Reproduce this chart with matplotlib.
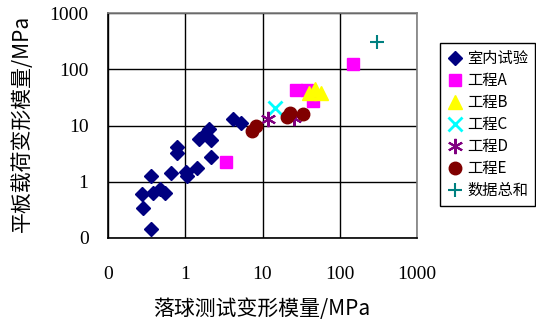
import matplotlib
matplotlib.use("Agg")
import matplotlib.pyplot as plt
from matplotlib.ticker import FixedLocator, FixedFormatter, NullLocator

plt.rcParams['font.family'] = ['Noto Sans CJK SC', 'DejaVu Sans']

# ---- data ----
lab_x = [0.356, 0.283, 0.275, 0.356, 0.381, 0.475, 0.540, 0.655, 0.771, 0.771,
         1.02, 1.04, 1.42, 2.13, 1.51, 2.0, 2.16, 1.78, 4.09, 5.30]
lab_y = [0.142, 0.340, 0.604, 1.26, 0.622, 0.733, 0.637, 1.43, 4.14, 3.18,
         1.49, 1.26, 1.79, 2.75, 5.75, 8.49, 5.63, 7.06, 13.3, 10.9]
a_x = [3.35, 27.3, 37.4, 45.7, 150]
a_y = [2.21, 42.8, 42.8, 27.6, 123]
b_x = [39.4, 48.5, 58.0]
b_y = [37.9, 44.7, 37.9]
c_x = [14.7]
c_y = [20.5]
d_x = [11.8, 25.2]
d_y = [12.9, 13.6]
e_x = [7.31, 8.24, 20.6, 22.8, 33.9]
e_y = [7.98, 9.80, 14.3, 16.5, 16.0]
all_x = [301]
all_y = [310]

series_names = ['室内试验', '工程A', '工程B', '工程C', '工程D', '工程E', '数据总和']
tick_vals = [0.1, 1, 10, 100, 1000]
tick_labels = ['0', '1', '10', '100', '1000']
xlabel = '落球测试变形模量/MPa'
ylabel = '平板载荷变形模量/MPa'

fig = plt.figure(figsize=(5.36, 3.2), dpi=100)
ax = fig.add_axes([108/536, 1-238/320, (417-108)/536, (238-13)/320])

ax.plot(lab_x, lab_y, linestyle='none', marker='D', ms=7, color='#000080', label=series_names[0])
ax.plot(a_x, a_y, linestyle='none', marker='s', ms=8.5, color='#FF00FF', label=series_names[1])
ax.plot(b_x, b_y, linestyle='none', marker='^', ms=10, color='#FFFF00', label=series_names[2])
ax.plot(c_x, c_y, linestyle='none', marker='x', ms=10, mew=2, color='#00FFFF', label=series_names[3])
ax.plot(d_x, d_y, linestyle='none', marker=(6, 2, 0), ms=11, mew=1.5, color='#800080', label=series_names[4])
ax.plot(e_x, e_y, linestyle='none', marker='o', ms=9, color='#800000', label=series_names[5])
ax.plot(all_x, all_y, linestyle='none', marker='+', ms=10, mew=1.5, color='#008080', label=series_names[6])

ax.set_xscale('log')
ax.set_yscale('log')
ax.set_xlim(0.1, 1000)
ax.set_ylim(0.1, 1000)
for axis in (ax.xaxis, ax.yaxis):
    axis.set_major_locator(FixedLocator(tick_vals))
    axis.set_major_formatter(FixedFormatter(tick_labels))
    axis.set_minor_locator(NullLocator())
ax.grid(True, which='major', color='black', linewidth=1)
ax.set_axisbelow(True)
ax.tick_params(length=0, labelsize=14)
ax.tick_params(axis='x', pad=20)
ax.tick_params(axis='y', pad=14)
for lbl in ax.get_xticklabels() + ax.get_yticklabels():
    lbl.set_family(['Liberation Serif'])
for s in ['top', 'right']:
    ax.spines[s].set_color('#808080')
for s in ['left', 'bottom']:
    ax.spines[s].set_color('black')
for s in ax.spines.values():
    s.set_linewidth(1.2)

fig.text(22/536, 1-123/320, ylabel, rotation=90, ha='center', va='center', fontsize=15)
fig.text(262/536, 1-309/320, xlabel, ha='center', va='center', fontsize=15)

leg = ax.legend(loc='upper left', bbox_to_anchor=(440/536, 1-43/320), bbox_transform=fig.transFigure,
                borderaxespad=0, fontsize=11, frameon=True, fancybox=False, edgecolor='black',
                framealpha=1, handlelength=1, handletextpad=0.35, labelspacing=0.33,
                borderpad=0.45, numpoints=1)
leg.get_frame().set_linewidth(1)

fig.savefig('out.png', dpi=100)
